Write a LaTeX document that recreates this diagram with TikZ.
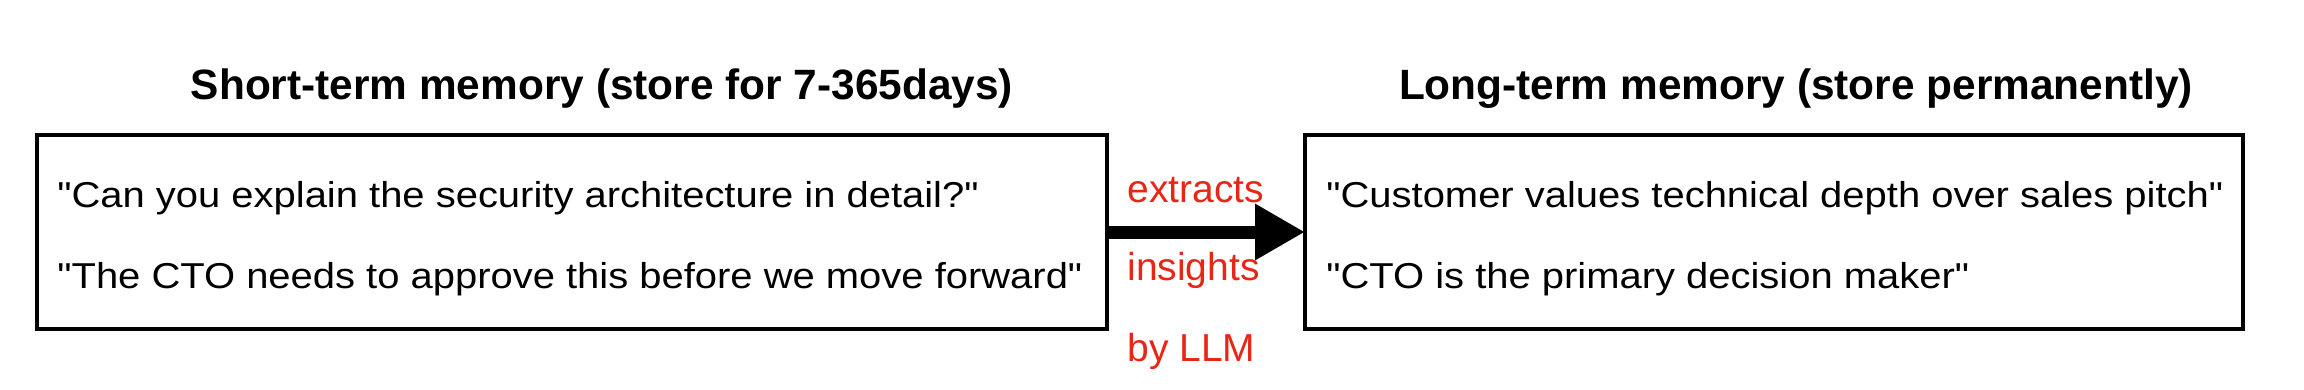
\documentclass[tikz,border=0pt]{standalone}
\usepackage{fontspec}
\setmainfont{Liberation Sans}[Ligatures=TeXOff]
\newfontfamily\quotefont{Liberation Sans}[Ligatures=TeXOff,FakeStretch=1.11]
\usetikzlibrary{arrows.meta}
\definecolor{llmred}{RGB}{232,38,22}
\tikzset{
  membox/.style={draw=black, line width=2pt, inner sep=0pt},
  title/.style={font=\fontsize{21.2}{25}\selectfont\bfseries, anchor=base, inner sep=0pt},
  quote/.style={font=\quotefont\fontsize{18}{21}\selectfont, anchor=base west, inner sep=0pt},
  redlbl/.style={font=\fontsize{19.5}{23}\selectfont, text=llmred, anchor=base west, inner sep=0pt},
  bigarrow/.style={line width=6.5pt, -{Triangle[length=25pt,width=26.5pt]}}
}
\begin{document}
\begin{tikzpicture}[x=0.5pt,y=-0.5pt]
\useasboundingbox (0,0) rectangle (2304,390);
\draw[membox] (37,135) rectangle (1107,329);
\draw[membox] (1305,135) rectangle (2243,329);
\coordinate (leftE) at (1109,232);
\coordinate (rightW) at (1305,232);
\node[title] (t1) at (602,100) {Short-term memory (store for 7-365days)};
\node[title] (t2) at (1796,100) {Long-term memory (store permanently)};
\node[quote] (q1) at (57,207) {"Can you explain the security architecture in detail?"};
\node[quote] (q2) at (57,288) {"The CTO needs to approve this before we move forward"};
\node[quote] (q3) at (1326,207) {"Customer values technical depth over sales pitch"};
\node[quote] (q4) at (1326,288) {"CTO is the primary decision maker"};
\node[redlbl] (r1) at (1127,203) {extracts};
\node[redlbl] (r2) at (1127,280) {insights};
\node[redlbl] (r3) at (1127,361) {by LLM};
\draw[bigarrow] (leftE) -- (rightW);
\end{tikzpicture}
\end{document}
